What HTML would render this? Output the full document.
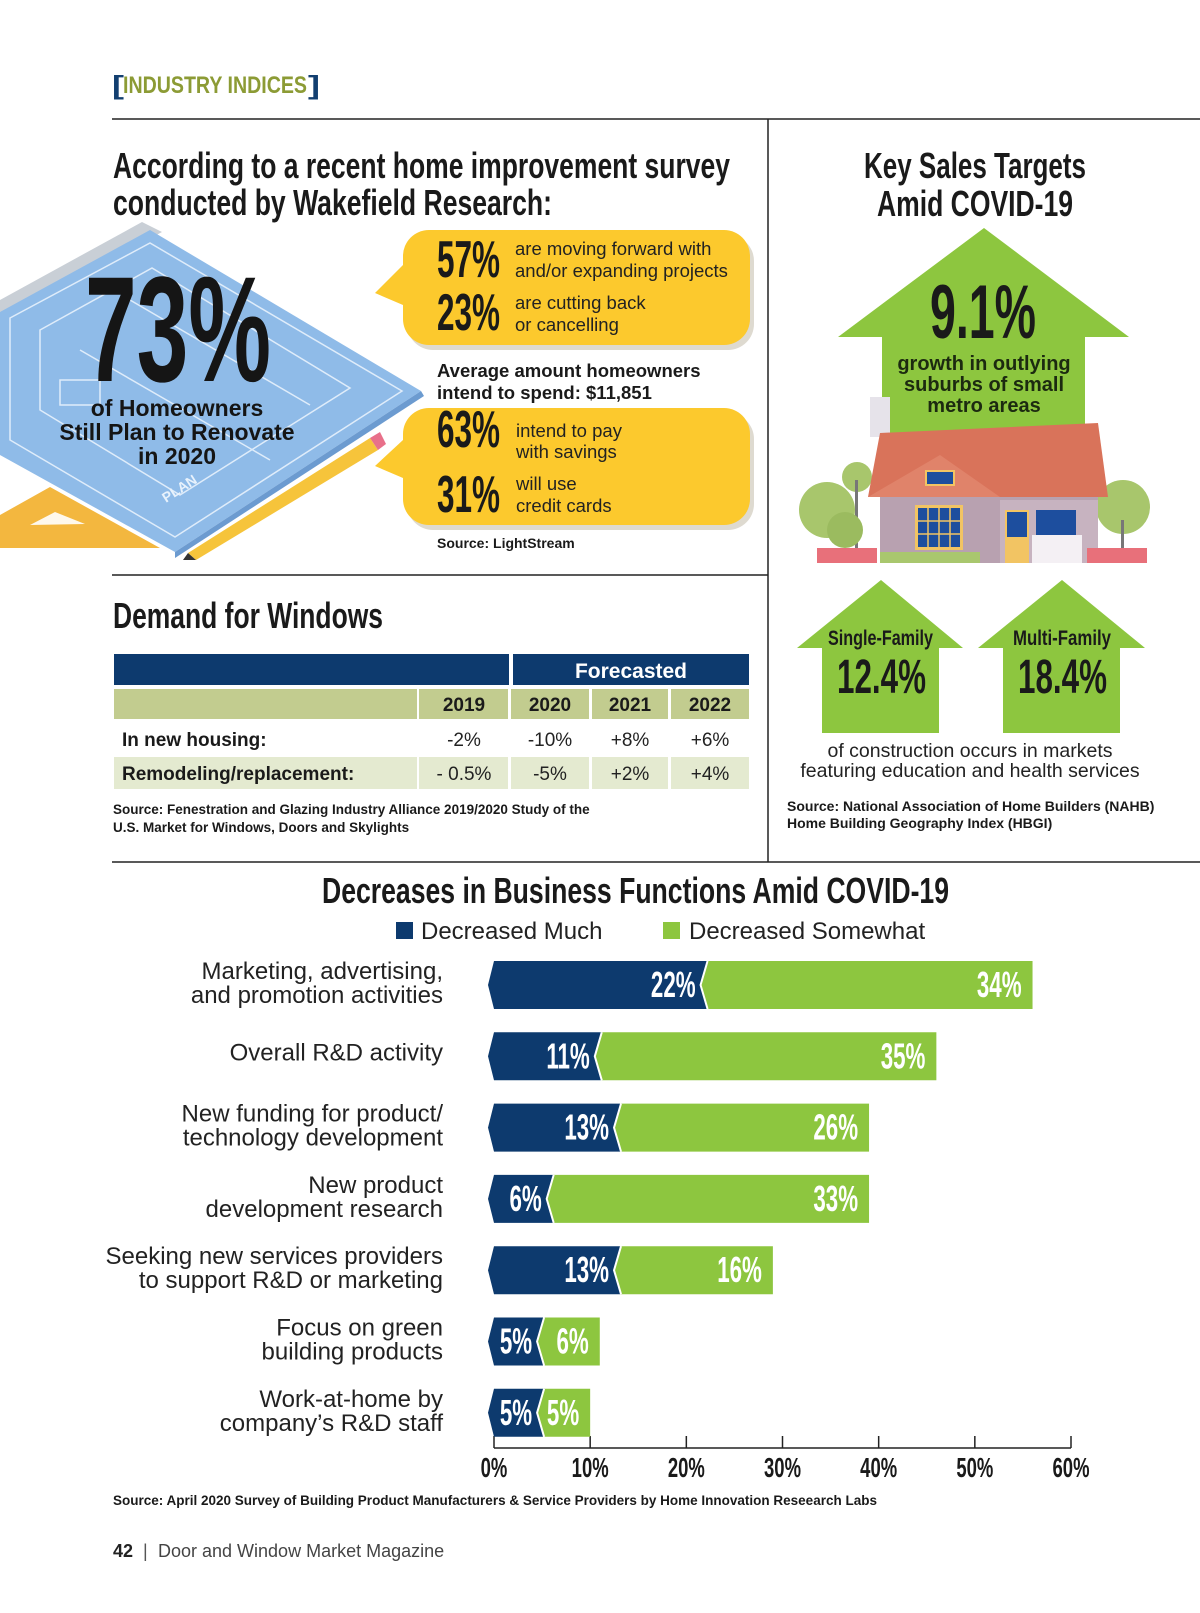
<!DOCTYPE html>
<html><head><meta charset="utf-8"><style>
html,body{margin:0;padding:0;background:#fff;}
svg{display:block;font-family:"Liberation Sans",sans-serif;}
</style></head><body>
<svg id="page" width="1200" height="1613" viewBox="0 0 1200 1613" xmlns="http://www.w3.org/2000/svg">
<g>
<text x="112" y="94" font-size="26" font-weight="bold" fill="#123f70" textLength="12" lengthAdjust="spacingAndGlyphs">[</text>
<text x="123" y="93" font-size="24" font-weight="bold" fill="#8c9b35" textLength="184" lengthAdjust="spacingAndGlyphs">INDUSTRY INDICES</text>
<text x="308" y="94" font-size="26" font-weight="bold" fill="#123f70" textLength="12" lengthAdjust="spacingAndGlyphs">]</text>
</g>
<g stroke="#222" stroke-width="1.5">
<line x1="112" y1="119" x2="1200" y2="119"/>
<line x1="768" y1="119" x2="768" y2="862"/>
<line x1="112" y1="575" x2="768" y2="575"/>
<line x1="112" y1="862" x2="1200" y2="862"/>
</g>
<g font-weight="bold" fill="#1a1a1a" font-size="36">
<text x="113" y="178" textLength="617" lengthAdjust="spacingAndGlyphs">According to a recent home improvement survey</text>
<text x="113" y="215" textLength="439" lengthAdjust="spacingAndGlyphs">conducted by Wakefield Research:</text>
</g>
<g>
<polygon points="0,300 142,222 162,232 0,318" fill="#c9cfd6"/>
<polygon points="0,312 150,230 421,391 175,552 0,455" fill="#8fbbe8"/>
<polygon points="421,391 175,552 175,558 424,396" fill="#6c9bd0"/>
<g fill="none" stroke="#e8f2fc" stroke-width="1.5" opacity="0.9">
<polygon points="10,318 150,243 402,391 175,537 10,440"/>
<polygon points="40,330 152,268 350,388 180,495 40,410"/>
<line x1="80" y1="350" x2="270" y2="460"/>
<line x1="130" y1="300" x2="310" y2="405"/>
<rect x="60" y="380" width="40" height="25"/>
</g>
<text x="0" y="0" font-size="14" font-weight="bold" fill="#e8f2fc" transform="translate(166,503) rotate(-33)">PLAN</text>
<polygon points="0,515 50,487 160,548 0,548" fill="#f3b73f"/>
<polygon points="30,525 55,512 85,524" fill="#fff" opacity="0.9"/>
<polygon points="188,553 370,438 378,450 196,560" fill="#f6c43b"/>
<polygon points="370,438 380,432 386,444 378,450" fill="#e8708a"/>
<polygon points="188,553 196,560 183,560" fill="#333"/>
</g>
<g fill="#151515">
<text x="85" y="381" font-size="150" font-weight="bold" textLength="186" lengthAdjust="spacingAndGlyphs">73%</text>
<g font-size="23" font-weight="bold" text-anchor="middle">
<text x="177" y="416">of Homeowners</text>
<text x="177" y="440">Still Plan to Renovate</text>
<text x="177" y="464">in 2020</text>
</g>
</g>
<g>
<rect x="407" y="235" width="347" height="115" rx="26" fill="#c8c2b0" opacity="0.6"/>
<path d="M403,265 L375,293 L403,305 Z" fill="#fcc92d"/>
<rect x="403" y="230" width="347" height="115" rx="26" fill="#fcc92d"/>
<text x="437" y="277" font-size="52" font-weight="bold" fill="#1a1a1a" textLength="63" lengthAdjust="spacingAndGlyphs">57%</text>
<text x="437" y="330" font-size="52" font-weight="bold" fill="#1a1a1a" textLength="63" lengthAdjust="spacingAndGlyphs">23%</text>
<g font-size="18.5" fill="#222">
<text x="515" y="255">are moving forward with</text>
<text x="515" y="277">and/or expanding projects</text>
<text x="515" y="309">are cutting back</text>
<text x="515" y="331">or cancelling</text>
</g>
</g>
<g font-size="18.5" font-weight="bold" fill="#1a1a1a">
<text x="437" y="377">Average amount homeowners</text>
<text x="437" y="399">intend to spend: $11,851</text>
</g>
<g>
<rect x="407" y="413" width="347" height="117" rx="26" fill="#c8c2b0" opacity="0.6"/>
<path d="M403,440 L375,466 L403,478 Z" fill="#fcc92d"/>
<rect x="403" y="408" width="347" height="117" rx="26" fill="#fcc92d"/>
<text x="437" y="447" font-size="52" font-weight="bold" fill="#1a1a1a" textLength="63" lengthAdjust="spacingAndGlyphs">63%</text>
<text x="437" y="512" font-size="52" font-weight="bold" fill="#1a1a1a" textLength="63" lengthAdjust="spacingAndGlyphs">31%</text>
<g font-size="18.5" fill="#222">
<text x="516" y="437">intend to pay</text>
<text x="516" y="458">with savings</text>
<text x="516" y="490">will use</text>
<text x="516" y="512">credit cards</text>
</g>
</g>
<text x="437" y="548" font-size="14" font-weight="bold" fill="#1a1a1a">Source: LightStream</text>
<g font-weight="bold" fill="#1a1a1a" font-size="36" text-anchor="middle">
<text x="975" y="178" textLength="222" lengthAdjust="spacingAndGlyphs">Key Sales Targets</text>
<text x="975" y="216" textLength="196" lengthAdjust="spacingAndGlyphs">Amid COVID-19</text>
</g>
<g>
<polygon points="984,228 1129,337 1085,337 1085,440 882,440 882,337 838,337" fill="#8dc63f"/>
<text x="930" y="338" font-size="76" font-weight="bold" fill="#1a1a1a" textLength="106" lengthAdjust="spacingAndGlyphs">9.1%</text>
<g font-size="20" font-weight="bold" fill="#1c2a10" text-anchor="middle">
<text x="984" y="370">growth in outlying</text>
<text x="984" y="391">suburbs of small</text>
<text x="984" y="412">metro areas</text>
</g>
</g>
<g>
<rect x="870" y="397" width="20" height="40" fill="#e6e3ea"/>
<circle cx="857" cy="477" r="15" fill="#a8c66c"/><rect x="855" y="480" width="3" height="70" fill="#777"/>
<circle cx="827" cy="510" r="28" fill="#a8c66c"/>
<circle cx="845" cy="530" r="18" fill="#9bbb5f"/>
<circle cx="1123" cy="507" r="27" fill="#a8c66c"/><rect x="1121" y="520" width="3" height="35" fill="#777"/>
<rect x="880" y="495" width="218" height="68" fill="#b8a1b0"/>
<rect x="1000" y="500" width="98" height="63" fill="#c7b3c0"/>
<polygon points="880,433 1098,423 1108,497 868,497" fill="#d9735a"/>
<polygon points="868,497 940,455 1000,497" fill="#e0836a"/>
<rect x="925" y="470" width="30" height="16" fill="#f2c463"/><rect x="927" y="472" width="26" height="12" fill="#1d4e9e"/>
<rect x="915" y="505" width="48" height="45" fill="#f2c463"/><rect x="918" y="508" width="42" height="39" fill="#1d4e9e"/>
<g stroke="#f2c463" stroke-width="1.5"><line x1="928" y1="508" x2="928" y2="547"/><line x1="939" y1="508" x2="939" y2="547"/><line x1="950" y1="508" x2="950" y2="547"/><line x1="918" y1="521" x2="960" y2="521"/><line x1="918" y1="534" x2="960" y2="534"/></g>
<rect x="1005" y="510" width="24" height="53" fill="#f2c463"/><rect x="1007" y="512" width="20" height="25" fill="#1d4e9e"/>
<rect x="1036" y="510" width="40" height="25" fill="#1d4e9e"/>
<rect x="1032" y="535" width="50" height="28" fill="#f4f0f4"/>
<rect x="880" y="552" width="100" height="11" fill="#a9c76e"/>
<rect x="817" y="548" width="60" height="15" fill="#e8707a"/>
<rect x="1087" y="548" width="60" height="15" fill="#e8707a"/>
</g>
<g>
<polygon points="881,580 963,648 939,648 939,733 822,733 822,648 797,648" fill="#8dc63f"/>
<text x="828" y="645" font-size="21" font-weight="bold" fill="#1a1a1a" textLength="105" lengthAdjust="spacingAndGlyphs">Single-Family</text>
<text x="837" y="693" font-size="48" font-weight="bold" fill="#1a1a1a" textLength="89" lengthAdjust="spacingAndGlyphs">12.4%</text>
</g>
<g>
<polygon points="1062,580 1145,648 1120,648 1120,733 1003,733 1003,648 978,648" fill="#8dc63f"/>
<text x="1013" y="645" font-size="21" font-weight="bold" fill="#1a1a1a" textLength="98" lengthAdjust="spacingAndGlyphs">Multi-Family</text>
<text x="1018" y="693" font-size="48" font-weight="bold" fill="#1a1a1a" textLength="89" lengthAdjust="spacingAndGlyphs">18.4%</text>
</g>
<g font-size="19.5" fill="#222" text-anchor="middle">
<text x="970" y="757">of construction occurs in markets</text>
<text x="970" y="777">featuring education and health services</text>
</g>
<g font-size="14" font-weight="bold" fill="#1a1a1a">
<text x="787" y="811">Source: National Association of Home Builders (NAHB)</text>
<text x="787" y="828">Home Building Geography Index (HBGI)</text>
</g>
<text x="113" y="628" font-size="36" font-weight="bold" fill="#1a1a1a" textLength="270" lengthAdjust="spacingAndGlyphs">Demand for Windows</text>
<g>
<rect x="114" y="654" width="395" height="31" fill="#0d3a6e"/>
<rect x="513" y="654" width="236" height="31" fill="#0d3a6e"/>
<text x="631" y="678" font-size="21" font-weight="bold" fill="#fff" text-anchor="middle">Forecasted</text>
<rect x="114" y="689" width="303" height="30" fill="#c2cc8f"/>
<rect x="419" y="689" width="89" height="30" fill="#c2cc8f"/>
<rect x="511" y="689" width="78" height="30" fill="#c2cc8f"/>
<rect x="592" y="689" width="76" height="30" fill="#c2cc8f"/>
<rect x="671" y="689" width="78" height="30" fill="#c2cc8f"/>
<g font-size="19" font-weight="bold" fill="#1a1a1a" text-anchor="middle">
<text x="464" y="711">2019</text><text x="550" y="711">2020</text><text x="630" y="711">2021</text><text x="710" y="711">2022</text>
</g>
<rect x="114" y="757" width="303" height="32" fill="#e4ead0"/>
<rect x="419" y="757" width="89" height="32" fill="#e4ead0"/>
<rect x="511" y="757" width="78" height="32" fill="#e4ead0"/>
<rect x="592" y="757" width="76" height="32" fill="#e4ead0"/>
<rect x="671" y="757" width="78" height="32" fill="#e4ead0"/>
<g font-size="19" fill="#1a1a1a">
<text x="122" y="746" font-weight="bold">In new housing:</text>
<text x="122" y="780" font-weight="bold">Remodeling/replacement:</text>
</g>
<g font-size="19" fill="#222" text-anchor="middle">
<text x="464" y="746">-2%</text><text x="550" y="746">-10%</text><text x="630" y="746">+8%</text><text x="710" y="746">+6%</text>
<text x="464" y="780">- 0.5%</text><text x="550" y="780">-5%</text><text x="630" y="780">+2%</text><text x="710" y="780">+4%</text>
</g>
</g>
<g font-size="13.5" font-weight="bold" fill="#1a1a1a">
<text x="113" y="814">Source: Fenestration and Glazing Industry Alliance 2019/2020 Study of the</text>
<text x="113" y="832">U.S. Market for Windows, Doors and Skylights</text>
</g>
<text x="322" y="903" font-size="36" font-weight="bold" fill="#1a1a1a" textLength="627" lengthAdjust="spacingAndGlyphs">Decreases in Business Functions Amid COVID-19</text>
<g>
<rect x="396" y="922" width="17" height="17" fill="#0d3a6e"/>
<text x="421" y="939" font-size="24" fill="#222">Decreased Much</text>
<rect x="663" y="922" width="17" height="17" fill="#8dc63f"/>
<text x="689" y="939" font-size="24" fill="#222">Decreased Somewhat</text>
</g>
<g id="chart"></g>
<text x="113" y="1505" font-size="13.5" font-weight="bold" fill="#1a1a1a">Source: April 2020 Survey of Building Product Manufacturers &amp; Service Providers by Home Innovation Reseearch Labs</text>
<g fill="#222">
<text x="113" y="1557" font-size="18" font-weight="bold">42</text>
<text x="143" y="1557" font-size="18" fill="#555">|</text>
<text x="158" y="1557" font-size="18" fill="#444">Door and Window Market Magazine</text>
</g>
</svg>
<script>
const categories = [
  ["Marketing, advertising,", "and promotion activities"],
  ["Overall R&D activity"],
  ["New funding for product/", "technology development"],
  ["New product", "development research"],
  ["Seeking new services providers", "to support R&D or marketing"],
  ["Focus on green", "building products"],
  ["Work-at-home by", "company\u2019s R&D staff"]
];
const decreasedMuch = [22, 11, 13, 6, 13, 5, 5];
const decreasedSomewhat = [34, 35, 26, 33, 16, 6, 5];
const tickValues = [0, 10, 20, 30, 40, 50, 60];
const tickLabels = ["0%", "10%", "20%", "30%", "40%", "50%", "60%"];

const NS = "http://www.w3.org/2000/svg";
const chart = document.getElementById("chart");
const X0 = 494, X60 = 1071, ROW0 = 961, ROWSTEP = 71.3, BARH = 48, AXISY = 1448;
function xScale(v) { return X0 + (X60 - X0) * v / 60; }
function yRow(i) { return ROW0 + i * ROWSTEP; }
function mk(tag, attrs) {
  const e = document.createElementNS(NS, tag);
  for (const k in attrs) e.setAttribute(k, attrs[k]);
  return e;
}
function condensed(str, x, y, size, fill, anchor, sx, weight) {
  const t = mk("text", {transform: "translate(" + x + "," + y + ") scale(" + sx + ",1)", "font-size": size, fill: fill, "text-anchor": anchor, "font-weight": weight});
  t.textContent = str;
  return t;
}
const axis = mk("line", {x1: xScale(0), y1: AXISY, x2: xScale(60), y2: AXISY, stroke: "#222", "stroke-width": 1.5});


chart.appendChild(axis);
tickValues.forEach((v, i) => {
  const tk = mk("line", {x1: xScale(v), y1: AXISY - 12, x2: xScale(v), y2: AXISY, stroke: "#222", "stroke-width": 1.5});
  
  
  chart.appendChild(tk);
  const lb = condensed(tickLabels[i], xScale(v), 1477, 28, "#1a1a1a", "middle", 0.66, "bold");
  
  
  chart.appendChild(lb);
});
categories.forEach((lines, i) => {
  const top = yRow(i), bot = top + BARH, cy = top + BARH / 2;
  const xa = xScale(0), xb = xScale(decreasedMuch[i]), xc = xScale(decreasedMuch[i] + decreasedSomewhat[i]);
  const lab = mk("text", {"font-size": 24, fill: "#222", "text-anchor": "end"});
  
  
  if (lines.length === 1) {
    const s = mk("tspan", {x: 443, y: cy + 4}); s.textContent = lines[0]; lab.appendChild(s);
  } else {
    lines.forEach((ln, j) => { const s = mk("tspan", {x: 443, y: cy - 6 + j * 24}); s.textContent = ln; lab.appendChild(s); });
  }
  chart.appendChild(lab);
  const much = mk("polygon", {points: (xa) + "," + top + " " + (xb + 2) + "," + top + " " + (xb + 2) + "," + bot + " " + (xa) + "," + bot + " " + (xa - 6) + "," + cy, fill: "#0d3a6e"});
  
  
  chart.appendChild(much);
  const some = mk("polygon", {points: (xb + 2) + "," + top + " " + xc + "," + top + " " + xc + "," + bot + " " + (xb + 2) + "," + bot + " " + (xb - 5) + "," + cy, fill: "#8dc63f"});
  
  
  chart.appendChild(some);
  const sep = mk("polyline", {points: (xb + 2) + "," + top + " " + (xb - 5) + "," + cy + " " + (xb + 2) + "," + bot, fill: "none", stroke: "#fff", "stroke-width": 2});
  
  
  chart.appendChild(sep);
  const v1 = condensed(decreasedMuch[i] + "%", xb - 10, cy + 12, 36, "#fff", "end", 0.62, "bold");
  
  
  chart.appendChild(v1);
  const v2 = condensed(decreasedSomewhat[i] + "%", xc - 11, cy + 12, 36, "#fff", "end", 0.62, "bold");
  
  
  chart.appendChild(v2);
});
</script>
</body></html>
